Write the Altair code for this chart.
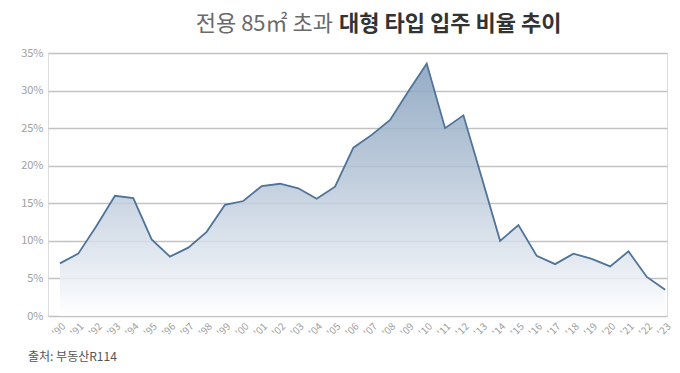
import altair as alt
import pandas as pd

years = list(range(1990, 2024))
ratio = [7.0, 8.3, 12.0, 16.0, 15.7, 10.2, 7.9, 9.1, 11.2, 14.8,
         15.3, 17.3, 17.6, 17.0, 15.6, 17.2, 22.4, 24.1, 26.1, 29.9,
         33.6, 25.0, 26.7, 18.4, 10.0, 12.1, 8.0, 6.9, 8.3, 7.6,
         6.6, 8.6, 5.2, 3.5]
y_ticks = [0, 5, 10, 15, 20, 25, 30, 35]
title_left = "전용 85㎡ 초과"
title_right = "대형 타입 입주 비율 추이"
source = "출처: 부동산R114"

df = pd.DataFrame({"year": years, "ratio": ratio})

W, H = 619, 263
FONT = "Noto Sans CJK KR"

x_enc = alt.X(
    "year:Q",
    scale=alt.Scale(domain=[1989.35, 2023.1], nice=False, zero=False),
    axis=alt.Axis(
        values=years, labelExpr="\"'\" + substring(toString(datum.value), 2)",
        labelAngle=-45, labelFontSize=10, labelColor="#a0a0a0", labelFont=FONT,
        labelPadding=5, ticks=False, domain=False, grid=False, title=None,
        labelOverlap=False, labelBound=False, labelFlush=False,
    ),
)
y_enc = alt.Y(
    "ratio:Q",
    scale=alt.Scale(domain=[0, 35], nice=False),
    axis=alt.Axis(
        values=y_ticks, labelExpr="datum.value + '%'", labelFontSize=11,
        labelColor="#a0a0a0", labelFont=FONT, labelPadding=5, ticks=False,
        domain=False, grid=True, gridColor="#c2c2c2", gridWidth=1.4,
        title=None, labelOverlap=False, labelFlush=False,
    ),
)

base = alt.Chart(df).encode(x=x_enc, y=y_enc)

area = base.mark_area(
    color=alt.Gradient(
        gradient="linear",
        stops=[
            alt.GradientStop(color="#839ebb", offset=0),
            alt.GradientStop(color="#afc0d3", offset=0.4),
            alt.GradientStop(color="#e2e8f0", offset=0.8),
            alt.GradientStop(color="#ffffff", offset=1),
        ],
        x1=1, x2=1, y1=0, y2=1,
    ),
    opacity=0.85,
)

line = base.mark_line(color="#4f7399", strokeWidth=1.8)

t_left = alt.Chart(pd.DataFrame({"t": [title_left]})).mark_text(
    align="right", baseline="middle", fontSize=22, font=FONT,
    color="#6a6a6a", fontWeight="normal",
).encode(text="t:N", x=alt.value(285), y=alt.value(-29))

t_right = alt.Chart(pd.DataFrame({"t": [title_right]})).mark_text(
    align="left", baseline="middle", fontSize=22, font=FONT,
    color="#333333", fontWeight="bold",
).encode(text="t:N", x=alt.value(291), y=alt.value(-29))

src = alt.Chart(pd.DataFrame({"t": [source]})).mark_text(
    align="left", baseline="middle", fontSize=12, font=FONT,
    color="#555555",
).encode(text="t:N", x=alt.value(-20), y=alt.value(H + 41))

chart = alt.layer(area, line, t_left, t_right, src).properties(
    width=W, height=H,
    autosize=alt.AutoSizeParams(type="none"),
    padding={"left": 48, "top": 53, "right": 13, "bottom": 57},
).configure_view(stroke=None).configure(background="white")

chart.save("out.html", embed_options={"renderer": "svg", "actions": False})
